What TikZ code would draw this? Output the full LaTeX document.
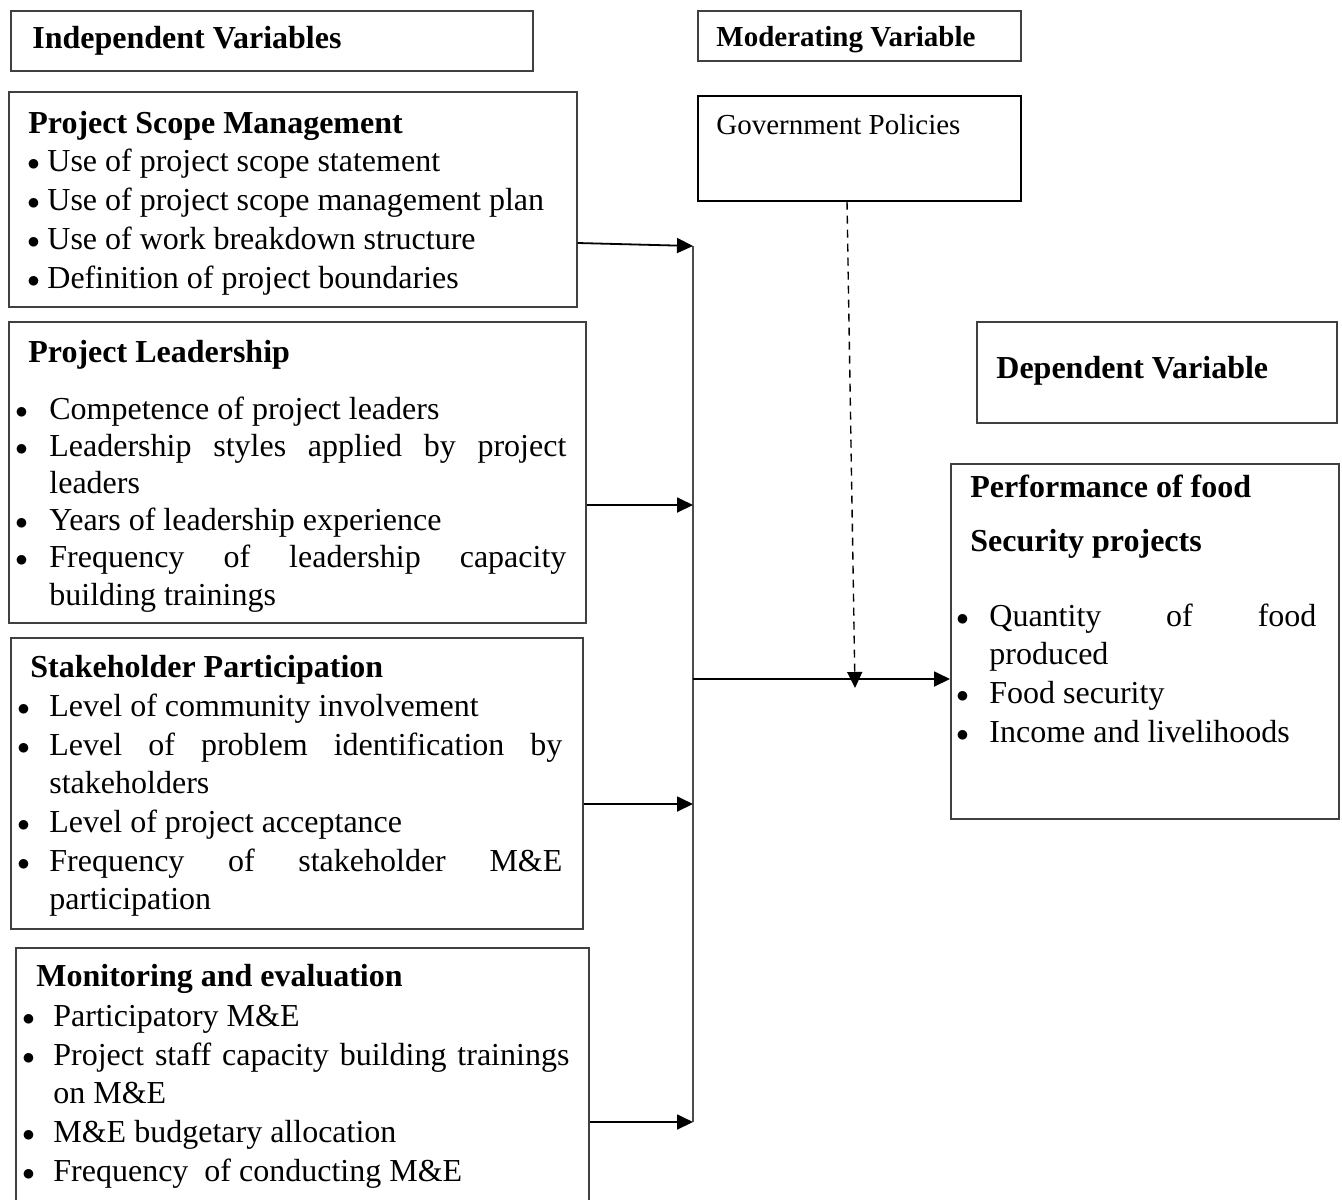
\documentclass[tikz,border=0pt]{standalone}
\usepackage{fontspec}
\setmainfont{Liberation Serif}
\usetikzlibrary{arrows.meta,positioning,calc}

\newlength\bulw
\newcommand\bul{\raisebox{0.03em}{\scalebox{0.72}{$\bullet$}}}
\newcommand\bitem[1]{\par\hangindent=\bulw\hangafter=1\noindent\makebox[\bulw][l]{\bul}#1}
\newcommand\bodyfont{\fontsize{16}{19.3}\selectfont\tolerance=10000\hyphenpenalty=10000}

\tikzset{
  box/.style  = { draw=black!75, line width=0.8pt, anchor=north west, inner sep=0pt },
  txt/.style  = { anchor=base west, inner sep=0pt, text width=#1, align=justify, font=\bodyfont },
  lbl/.style  = { anchor=base west, inner sep=0pt },
  arr/.style  = { -{Triangle[length=8pt,width=7.5pt]}, line width=0.9pt },
  trunk/.style = { draw=black!70, line width=0.9pt }
}

\begin{document}
\begin{tikzpicture}[x=0.5pt,y=-0.5pt]
  \useasboundingbox (0,0) rectangle (1342,1199);
  \clip (0,0) rectangle (1342,1199);

  % boxes
  \node[box, minimum width=261pt, minimum height=30pt] (indep) at (10,10) {};
  \node[box, minimum width=161.5pt, minimum height=25pt] (moder) at (697,10) {};
  \node[box, minimum width=284pt, minimum height=107.5pt] (scope) at (8,91) {};
  \node[box, draw=black, minimum width=161.5pt, minimum height=52.5pt] (gov) at (697,95) {};
  \node[box, minimum width=288.5pt, minimum height=150.5pt] (lead) at (8,321) {};
  \node[box, minimum width=180pt, minimum height=50.5pt] (dep) at (976,321) {};
  \node[box, minimum width=194pt, minimum height=177.5pt] (perf) at (950,463) {};
  \node[box, minimum width=286pt, minimum height=145.5pt] (stake) at (10,637) {};
  \node[box, minimum width=286.5pt, minimum height=135pt] (mon) at (15,947) {};

  % titles
  \node[lbl, font=\fontsize{16}{19}\selectfont\bfseries] (indeptxt)
    at ($(indep.north west)+(22,38)$) {Independent Variables};
  \node[lbl, font=\fontsize{14.5}{17}\selectfont\bfseries] (modertxt)
    at ($(moder.north west)+(19,36)$) {Moderating Variable};
  \node[lbl, font=\fontsize{14.5}{17}\selectfont] (govtxt)
    at ($(gov.north west)+(19,39)$) {Government Policies};
  \node[lbl, font=\fontsize{16}{19}\selectfont\bfseries] (deptxt)
    at ($(dep.north west)+(20,57)$) {Dependent Variable};

  % box contents
  \node[txt=264.5pt] (scopetxt) at ($(scope.north west)+(19,42)$) {%
    \setlength\bulw{10pt}\fontsize{16}{19.5}\selectfont
    \hspace*{0.5pt}\textbf{Project Scope Management}\par\vspace{-0.5pt}
    \bitem{Use of project scope statement}
    \bitem{Use of project scope management plan}
    \bitem{Use of work breakdown structure}
    \bitem{Definition of project boundaries}\par};
  \node[txt=275.5pt] (leadtxt) at ($(lead.north west)+(7,41)$) {%
    \setlength\bulw{17pt}\fontsize{16}{18.6}\selectfont
    \hspace*{6.5pt}\textbf{Project Leadership}\par\vspace{9.9pt}
    \bitem{Competence of project leaders}
    \bitem{Leadership styles applied by project leaders}
    \bitem{Years of leadership experience}
    \bitem{Frequency of leadership capacity building trainings}\par};
  \node[txt=272.5pt] (staketxt) at ($(stake.north west)+(7,40)$) {%
    \setlength\bulw{16pt}%
    \hspace*{6.5pt}\textbf{Stakeholder Participation}\par\vspace{0.5pt}
    \bitem{Level of community involvement}
    \bitem{Level of problem identification by stakeholders}
    \bitem{Level of project acceptance}
    \bitem{Frequency of stakeholder M\&E participation}\par};
  \node[txt=273.5pt] (montxt) at ($(mon.north west)+(7,39)$) {%
    \setlength\bulw{15.5pt}%
    \hspace*{7pt}\textbf{Monitoring and evaluation}\par\vspace{1pt}
    \bitem{Participatory M\&E}
    \bitem{Project staff capacity building trainings on M\&E}
    \bitem{M\&E budgetary allocation}
    \bitem{Frequency\ \ of conducting M\&E}\par};
  \node[txt=180pt] (perftxt) at ($(perf.north west)+(6,34)$) {%
    \setlength\bulw{16.5pt}%
    \hspace*{7pt}\textbf{Performance of food}\par\vspace{8pt}
    \hspace*{7pt}\textbf{Security projects}\par\vspace{18pt}
    \bitem{Quantity of food produced}
    \bitem{Food security}
    \bitem{Income and livelihoods}\par};

  % connectors
  \coordinate (jt) at (693,246);
  \coordinate (j2) at (693,505);
  \coordinate (j3) at (693,804);
  \coordinate (jb) at (693,1122);
  \coordinate (jm) at (693,679);
  \coordinate (dtip) at (855,688);

  \draw[trunk] (jt) -- (jb);
  \draw[arr] ($(scope.north east)+(0,152)$) -- (jt);
  \draw[arr] (lead.east |- j2) -- (j2);
  \draw[arr] (stake.east |- j3) -- (j3);
  \draw[arr] (mon.east |- jb) -- (jb);
  \draw[arr] (jm) -- (perf.west |- jm);
  \draw[arr, line width=0.7pt, dash pattern=on 4pt off 3pt]
    ($(gov.south west)+(150,0)$) -- (dtip);
\end{tikzpicture}
\end{document}
